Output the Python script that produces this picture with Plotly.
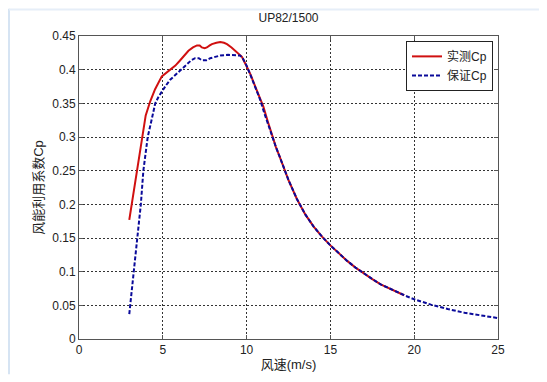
import plotly.graph_objects as go

# 实测Cp (measured)
x_meas = [3.0, 3.5, 3.98, 4.25, 4.54, 4.94, 5.2, 5.44, 5.75, 6.04, 6.3, 6.53, 6.8, 7.04, 7.2, 7.33,
          7.5, 7.63, 7.8, 7.93, 8.2, 8.43, 8.65, 8.83, 9.1, 9.32, 9.52, 9.72, 10.0, 10.25, 10.5,
          10.75, 11.0, 11.25, 11.5, 11.75, 12.0, 12.5, 13.0, 13.5, 14.0, 14.5, 15.0, 15.5, 16.0,
          16.5, 17.0, 17.5, 18.0, 18.5, 19.0, 19.4]
cp_meas = [0.177, 0.253, 0.332, 0.353, 0.371, 0.390, 0.395, 0.400, 0.406, 0.414, 0.421, 0.428,
           0.433, 0.436, 0.436, 0.433, 0.432, 0.433, 0.436, 0.438, 0.440, 0.441, 0.440, 0.438,
           0.433, 0.428, 0.424, 0.419, 0.405, 0.392, 0.376, 0.361, 0.345, 0.324, 0.303, 0.285,
           0.269, 0.236, 0.208, 0.185, 0.167, 0.152, 0.139, 0.127, 0.116, 0.106, 0.097, 0.089,
           0.081, 0.075, 0.069, 0.065]

# 保证Cp (guaranteed)
x_guar = [3.0, 3.55, 3.69, 3.84, 4.1, 4.3, 4.55, 4.75, 4.94, 5.2, 5.44, 5.7, 5.94, 6.2, 6.44,
          6.7, 6.93, 7.15, 7.33, 7.6, 7.83, 8.1, 8.43, 8.9, 9.43, 9.6, 9.75, 9.9, 10.0, 10.2,
          10.4, 10.6, 10.8, 11.05, 11.3, 11.5, 11.75, 12.0, 12.5, 13.0, 13.5, 14.0, 14.5, 15.0,
          15.5, 16.0, 16.5, 17.0, 17.5, 18.0, 18.5, 19.0, 19.5, 20.0, 21.0, 22.0, 23.0, 24.0, 25.0]
cp_guar = [0.037, 0.168, 0.200, 0.250, 0.300, 0.322, 0.350, 0.360, 0.368, 0.377, 0.385, 0.391,
           0.397, 0.403, 0.409, 0.414, 0.417, 0.417, 0.414, 0.414, 0.417, 0.419, 0.421, 0.422,
           0.422, 0.421, 0.418, 0.412, 0.406, 0.394, 0.381, 0.368, 0.356, 0.336, 0.317, 0.302,
           0.285, 0.269, 0.236, 0.208, 0.185, 0.167, 0.152, 0.139, 0.127, 0.116, 0.106, 0.097,
           0.089, 0.081, 0.075, 0.069, 0.064, 0.059, 0.051, 0.0445, 0.039, 0.035, 0.031]

x_ticks = [0, 5, 10, 15, 20, 25]
y_ticks = [0, 0.05, 0.1, 0.15, 0.2, 0.25, 0.3, 0.35, 0.4, 0.45]
y_tick_text = ["0", "0.05", "0.1", "0.15", "0.2", "0.25", "0.3", "0.35", "0.4", "0.45"]

FONT = "Liberation Sans, Arial, Noto Sans CJK SC, sans-serif"

# page has an 8px body margin, so the figure is drawn 8px smaller and offset
W, H = 539, 374
L, T, PW, PH = 71, 28, 419, 310

fig = go.Figure()
fig.add_trace(go.Scatter(x=x_meas, y=cp_meas, mode="lines", name="实测Cp",
                         line=dict(color="#d01010", width=2)))
fig.add_trace(go.Scatter(x=x_guar, y=cp_guar, mode="lines", name="保证Cp",
                         line=dict(color="#0a0a9a", width=2, dash="4px,2px")))

axis_common = dict(showline=True, linecolor="#555555", linewidth=1, mirror="ticks",
                   ticks="inside", ticklen=4, tickcolor="#555555",
                   showgrid=True, gridcolor="#333333", gridwidth=1, griddash="2px,2px",
                   zeroline=False, tickfont=dict(family=FONT, size=12, color="#222222"))

fig.update_xaxes(range=[0, 25], tickvals=x_ticks, **axis_common,
                 title=dict(text="风速(m/s)", font=dict(family=FONT, size=13, color="#222222"), standoff=3))
fig.update_yaxes(range=[0, 0.45], tickvals=y_ticks, ticktext=y_tick_text, **axis_common,
                 title=dict(text="风能利用系数Cp", font=dict(family=FONT, size=13, color="#222222"), standoff=5))

fig.update_layout(
    width=W, height=H,
    margin=dict(l=L, r=W - L - PW, t=T, b=H - T - PH),
    paper_bgcolor="white", plot_bgcolor="white",
    title=dict(text="UP82/1500", x=(L + PW / 2) / W, xanchor="center", y=1 - 10 / H, yanchor="middle",
               font=dict(family=FONT, size=12, color="#222222")),
    legend=dict(x=(485 - L) / PW, xanchor="right", y=(T + PH - 33) / PH, yanchor="top",
                bgcolor="white", bordercolor="#222222", borderwidth=1,
                font=dict(family=FONT, size=12, color="#222222"),
                tracegroupgap=0, itemwidth=30),
    showlegend=True,
)

# light screenshot frame on left and top
fig.add_shape(type="line", xref="paper", yref="paper",
              x0=(1 - L) / PW, x1=(1 - L) / PW, y0=(T + PH) / PH, y1=-(H - T - PH) / PH,
              line=dict(color="#d6e4f3", width=2))
fig.add_shape(type="line", xref="paper", yref="paper",
              x0=(1 - L) / PW, x1=(W - L) / PW, y0=(T + PH - 1) / PH, y1=(T + PH - 1) / PH,
              line=dict(color="#e6eef8", width=2))

fig.write_html("out.html")
